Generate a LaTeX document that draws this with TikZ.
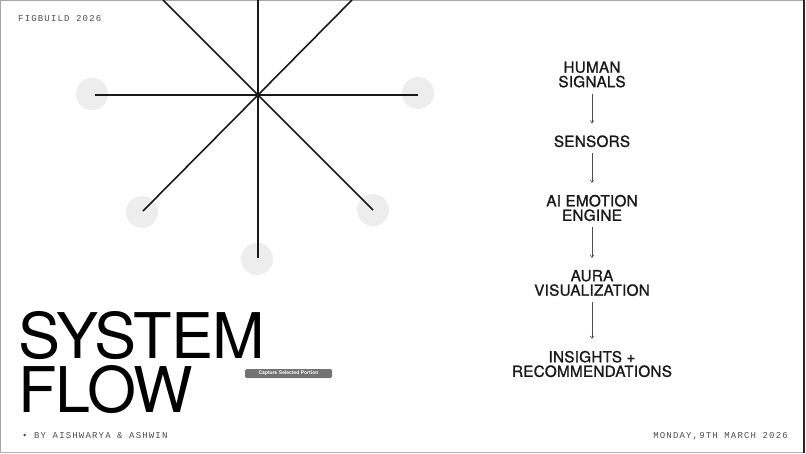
\documentclass[tikz,border=0pt]{standalone}
\usepackage{fontspec}
\setmainfont{TeX Gyre Heros}
\newfontfamily\monofont[LetterSpace=13]{Liberation Mono}
\newfontfamily\stagefont[FakeBold=1.2,LetterSpace=1.5]{TeX Gyre Heros}
\newfontfamily\titlefont[LetterSpace=-1.5]{TeX Gyre Heros}
\usetikzlibrary{arrows.meta}

\begin{document}
\begin{tikzpicture}[x=1pt, y=-1pt,
    spoke/.style={line width=1.6pt, black!90},
    halo/.style={fill=black!7},
    stage/.style={inner sep=0pt, align=center, text=black!90,
      font=\stagefont\fontsize{15.3}{14.5}\selectfont},
    flow/.style={-{To[length=3pt,width=4pt]}, line width=0.6pt, black!70,
      shorten <=6pt, shorten >=12pt},
    meta/.style={inner sep=0pt, text=black!70, font=\monofont\fontsize{9}{10}\selectfont},
    title/.style={inner sep=0pt, anchor=north west, align=left, text=black,
      font=\titlefont\fontsize{63}{54}\selectfont}]
    \useasboundingbox (0,0) rectangle (806,453);

    % frame
    \draw[black!35, line width=1pt] (0.5,453) -- (0.5,0.5) -- (803,0.5);
    \draw[black!30] (0,452) -- (803,452);
    \draw[black!85, line width=2.5pt] (804,0) -- (804,453);

    % star
    \coordinate (hub) at (258,95);
    \fill[halo] (92,94) circle (16);
    \fill[halo] (418,93) circle (16);
    \fill[halo] (142,212) circle (16);
    \fill[halo] (373,210) circle (16);
    \fill[halo] (257,259) circle (16);
    \draw[spoke] (95,95) -- (hub) -- (418,95);
    \draw[spoke] (258,0) -- (hub) -- (258,258);
    \draw[spoke] (163,0) -- (hub) -- (373,210);
    \draw[spoke] (352,0) -- (hub) -- (143,211);

    % flow
    \node[stage] (human) at (592,74.5) {HUMAN\\SIGNALS};
    \node[stage] (sensors) at (592,141.3) {SENSORS};
    \node[stage] (emotion) at (592,208) {AI EMOTION\\ENGINE};
    \node[stage] (aura) at (592,283) {AURA\\VISUALIZATION};
    \node[stage] (insights) at (592,364) {INSIGHTS +\\RECOMMENDATIONS};
    \draw[flow] (human) -- (sensors);
    \draw[flow] (sensors) -- (emotion);
    \draw[flow] (emotion) -- (aura);
    \draw[flow] (aura) -- (insights);

    % title and captions
    \node[title] (title) at (18,311.5) {SYSTEM\\FLOW};
    \node[fill=black!55, rounded corners=1.5pt, text=white, inner sep=0pt,
      minimum width=87pt, minimum height=9pt,
      font=\fontsize{5}{5}\selectfont\bfseries] (capture) at (288.5,373.5) {Capture Selected Portion};
    \node[meta, anchor=base west] (event) at (18,21) {FIGBUILD 2026};
    \node[meta, anchor=base west] (authors) at (22,438) {• BY AISHWARYA \& ASHWIN};
    \node[meta, anchor=base east] (date) at (788,438) {MONDAY,9TH MARCH 2026};
\end{tikzpicture}
\end{document}
